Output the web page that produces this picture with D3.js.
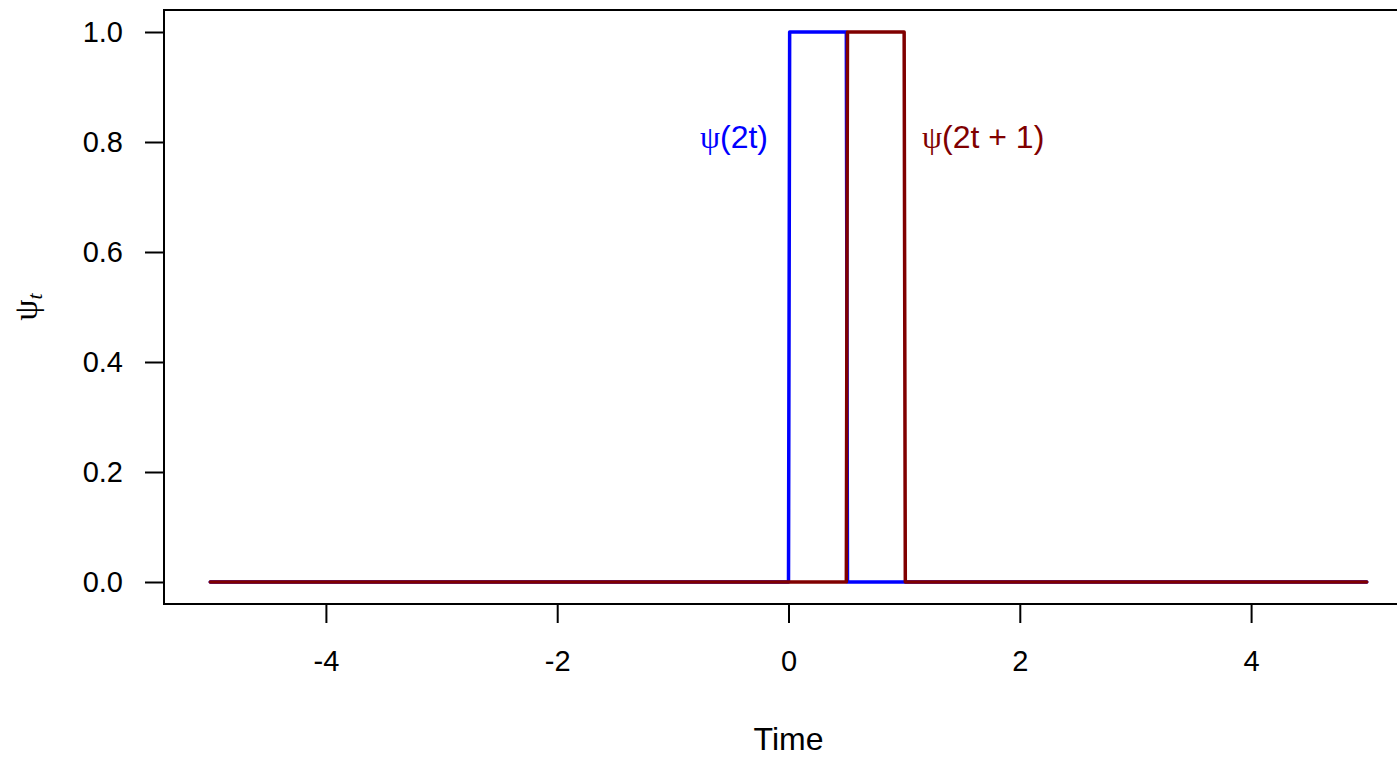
<!DOCTYPE html>
<html>
<head>
<meta charset="utf-8">
<title>Haar wavelets</title>
<script src="https://d3js.org/d3.v7.min.js"></script>
<style>
  body { margin: 0; background: #fff; }
  text { font-family: "Liberation Sans", Arial, sans-serif; }
</style>
</head>
<body>
<svg width="1397" height="759"></svg>
<script>
// vertices of the two step functions (time, value)
var blueTime = [-5, 0, 0.01, 0.5, 0.51, 5];
var blueVal  = [0, 0, 1, 1, 0, 0];
var redTime  = [-5, 0.5, 0.51, 1, 1.01, 5];
var redVal   = [0, 0, 1, 1, 0, 0];

var xTicks = [-4, -2, 0, 2, 4];
var yTicks = [0, 0.2, 0.4, 0.6, 0.8, 1.0];

var svg = d3.select("svg");
var fsTick = 29, fsLab = 32;

var x = d3.scaleLinear().domain([-5.4, 5.4]).range([164, 1413]);
var y = d3.scaleLinear().domain([-0.04, 1.04]).range([604, 10]);

var line = d3.line()
    .x(function(d) { return x(d[0]); })
    .y(function(d) { return y(d[1]); });

function pts(t, v) { return t.map(function(d, i) { return [d, v[i]]; }); }

// box
svg.append("rect")
    .attr("x", x(-5.4)).attr("y", y(1.04))
    .attr("width", x(5.4) - x(-5.4)).attr("height", y(-0.04) - y(1.04))
    .attr("fill", "none").attr("stroke", "#000").attr("stroke-width", 2);

// x axis
var gx = svg.append("g").attr("transform", "translate(0,604)");
gx.call(d3.axisBottom(x).tickValues(xTicks).tickSize(19).tickPadding(27)
    .tickFormat(function(d) { return String(d); }));
gx.select(".domain").remove();
gx.selectAll("line").attr("stroke-width", 2);
gx.selectAll("text").attr("font-size", fsTick).attr("fill", "#000")
    .style("font-family", "'Liberation Sans', Arial, sans-serif");

// y axis
var gy = svg.append("g").attr("transform", "translate(164,0)");
gy.call(d3.axisLeft(y).tickValues(yTicks).tickSize(19).tickPadding(22)
    .tickFormat(d3.format(".1f")));
gy.select(".domain").remove();
gy.selectAll("line").attr("stroke-width", 2);
gy.selectAll("text").attr("font-size", fsTick).attr("fill", "#000")
    .style("font-family", "'Liberation Sans', Arial, sans-serif");

// lines
svg.append("path").datum(pts(blueTime, blueVal))
    .attr("d", line).attr("fill", "none").attr("stroke", "#0000ff")
    .attr("stroke-width", 3.5).attr("stroke-linejoin", "round").attr("stroke-linecap", "round");
svg.append("path").datum(pts(redTime, redVal))
    .attr("d", line).attr("fill", "none").attr("stroke", "#800000")
    .attr("stroke-width", 3.5).attr("stroke-linejoin", "round").attr("stroke-linecap", "round");

// labels on curves
var lb = svg.append("text").attr("x", 768).attr("y", y(0.8)).attr("dy", "0.2em")
    .attr("text-anchor", "end").attr("font-size", fsLab).attr("fill", "#0000ff");
lb.append("tspan").style("font-family", "'Liberation Serif', serif").text("ψ");
lb.append("tspan").text("(2t)");

var lr = svg.append("text").attr("x", 922).attr("y", y(0.8)).attr("dy", "0.2em")
    .attr("text-anchor", "start").attr("font-size", fsLab).attr("fill", "#800000");
lr.append("tspan").style("font-family", "'Liberation Serif', serif").text("ψ");
lr.append("tspan").text("(2t + 1)");

// axis titles
svg.append("text").attr("x", x(0)).attr("y", 750)
    .attr("text-anchor", "middle").attr("font-size", fsLab).text("Time");

var yl = svg.append("text")
    .attr("transform", "translate(37,307) rotate(-90)")
    .attr("text-anchor", "middle").attr("font-size", 34);
yl.append("tspan").style("font-family", "'Liberation Serif', serif").text("ψ");
yl.append("tspan").attr("dy", 5).attr("font-size", 22).attr("font-style", "italic")
    .style("font-family", "'Liberation Serif', serif").text("t");
</script>
</body>
</html>
